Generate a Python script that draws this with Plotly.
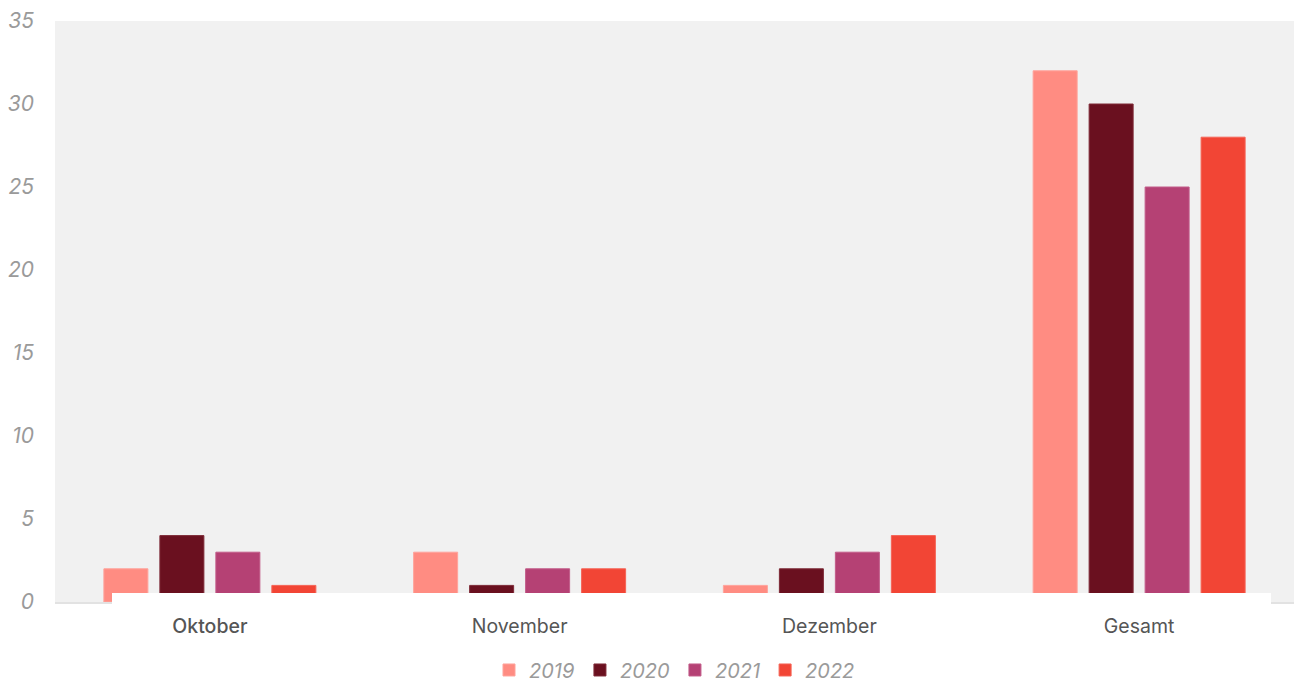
import plotly.graph_objects as go

categories = ["Oktober", "November", "Dezember", "Gesamt"]
tick_labels = ['<span style="font-weight:500">Oktober</span>', "November", "Dezember", "Gesamt"]
years = ["2019", "2020", "2021", "2022"]
values_2019 = [2, 3, 1, 32]
values_2020 = [4, 1, 2, 30]
values_2021 = [3, 2, 3, 25]
values_2022 = [1, 2, 4, 28]
series = [values_2019, values_2020, values_2021, values_2022]
colors = ["#FF8C82", "#6A101F", "#B54174", "#F24535"]
edge_colors = ["#FFA39B", "#7E2A37", "#C25C89", "#F56355"]
y_ticks = [0, 5, 10, 15, 20, 25, 30, 35]

fig = go.Figure()
for name, vals, c, ec in zip(years, series, colors, edge_colors):
    fig.add_trace(go.Bar(
        x=categories, y=vals, name=name,
        marker=dict(color=c, line=dict(color=ec, width=1)),
    ))

fig.update_layout(
    width=1296, height=684,
    margin=dict(l=55, r=2, t=21, b=82, autoexpand=False),
    paper_bgcolor="white",
    plot_bgcolor="#F1F1F1",
    barmode="group",
    bargap=0.277,
    bargroupgap=0.214,
    font=dict(family="Inter, Liberation Sans, sans-serif"),
    legend=dict(
        orientation="h", x=0.5, xanchor="center", y=-0.117, yanchor="middle",
        font=dict(size=20, color="#9A9A9A", style="italic"),
        itemwidth=30, tracegroupgap=0,
    ),
    showlegend=True,
)
fig.update_xaxes(
    tickvals=categories, ticktext=tick_labels,
    tickfont=dict(size=19.5, color="#555555"),
    showgrid=False, zeroline=False,
    showline=True, linecolor="#E2E2E2", linewidth=2,
    ticks="", ticklabelstandoff=6, automargin=False,
)
fig.update_yaxes(
    range=[0, 35], tickvals=y_ticks,
    tickfont=dict(size=21, color="#9A9A9A", style="italic"),
    showgrid=False, zeroline=False, showline=False,
    ticks="", ticklabelstandoff=20, automargin=False,
)
# white band over the bottom of the bars (as in the reference)
fig.add_shape(type="rect", xref="paper", yref="paper",
              x0=(112 - 55) / 1239, x1=(1271 - 55) / 1239,
              y0=-0.004, y1=9 / 581,
              fillcolor="white", line=dict(width=0), layer="above")

fig.write_html("out.html", config={"displayModeBar": False},
               post_script="document.body.style.margin='0';")
